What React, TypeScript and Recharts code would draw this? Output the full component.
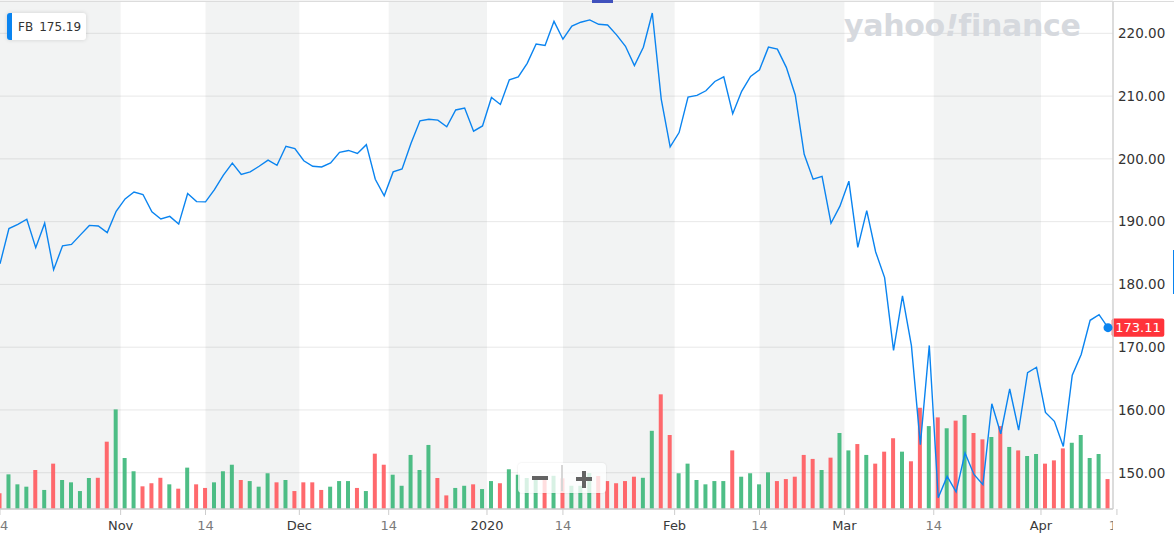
import React from "react";
import {
  ComposedChart,
  Line,
  Bar,
  Cell,
  XAxis,
  YAxis,
  CartesianGrid,
  ReferenceArea,
  ReferenceDot,
  ReferenceLine,
} from "recharts";

// trading sessions, Oct 14 2019 .. Apr 13 2020
const dates = [
  "2019-10-14", "2019-10-15", "2019-10-16", "2019-10-17", "2019-10-18", "2019-10-21", "2019-10-22",
  "2019-10-23", "2019-10-24", "2019-10-25", "2019-10-28", "2019-10-29", "2019-10-30", "2019-10-31",
  "2019-11-01", "2019-11-04", "2019-11-05", "2019-11-06", "2019-11-07", "2019-11-08", "2019-11-11",
  "2019-11-12", "2019-11-13", "2019-11-14", "2019-11-15", "2019-11-18", "2019-11-19", "2019-11-20",
  "2019-11-21", "2019-11-22", "2019-11-25", "2019-11-26", "2019-11-27", "2019-11-29",
  "2019-12-02", "2019-12-03", "2019-12-04", "2019-12-05", "2019-12-06", "2019-12-09", "2019-12-10",
  "2019-12-11", "2019-12-12", "2019-12-13", "2019-12-16", "2019-12-17", "2019-12-18", "2019-12-19",
  "2019-12-20", "2019-12-23", "2019-12-24", "2019-12-26", "2019-12-27", "2019-12-30", "2019-12-31",
  "2020-01-02", "2020-01-03", "2020-01-06", "2020-01-07", "2020-01-08", "2020-01-09", "2020-01-10",
  "2020-01-13", "2020-01-14", "2020-01-15", "2020-01-16", "2020-01-17", "2020-01-21", "2020-01-22",
  "2020-01-23", "2020-01-24", "2020-01-27", "2020-01-28", "2020-01-29", "2020-01-30", "2020-01-31",
  "2020-02-03", "2020-02-04", "2020-02-05", "2020-02-06", "2020-02-07", "2020-02-10", "2020-02-11",
  "2020-02-12", "2020-02-13", "2020-02-14", "2020-02-18", "2020-02-19", "2020-02-20", "2020-02-21",
  "2020-02-24", "2020-02-25", "2020-02-26", "2020-02-27", "2020-02-28",
  "2020-03-02", "2020-03-03", "2020-03-04", "2020-03-05", "2020-03-06", "2020-03-09", "2020-03-10",
  "2020-03-11", "2020-03-12", "2020-03-13", "2020-03-16", "2020-03-17", "2020-03-18", "2020-03-19",
  "2020-03-20", "2020-03-23", "2020-03-24", "2020-03-25", "2020-03-26", "2020-03-27", "2020-03-30",
  "2020-03-31",
  "2020-04-01", "2020-04-02", "2020-04-03", "2020-04-06", "2020-04-07", "2020-04-08", "2020-04-09",
  "2020-04-13",
];

const closes = [
  183.28, 188.89, 189.55, 190.39, 185.85, 189.76, 182.34, 186.15, 186.38, 187.89, 189.4, 189.31, 188.25, 191.65,
  193.62, 194.72, 194.32, 191.55, 190.42, 190.84, 189.61, 194.47, 193.19, 193.15, 195.1, 197.4, 199.32, 197.51,
  197.93, 198.82, 199.79, 198.97, 202.0, 201.64,
  199.7, 198.82, 198.71, 199.36, 201.05, 201.34, 200.87, 202.26, 196.75, 194.11, 197.92, 198.39, 202.5, 206.06,
  206.3, 206.18, 205.12, 207.79, 208.1, 204.41, 205.25,
  209.78, 208.67, 212.6, 213.06, 215.22, 218.3, 218.06, 221.91, 219.06, 221.15, 221.77, 222.14, 221.44, 221.32,
  219.76, 217.94, 214.87, 217.79, 223.23, 209.53, 201.91,
  204.19, 209.83, 210.11, 210.85, 212.33, 213.06, 207.19, 210.76, 213.14, 214.18, 217.8, 217.49, 214.58, 210.18,
  200.72, 196.77, 197.2, 189.75, 192.47,
  196.44, 185.89, 191.76, 185.17, 181.09, 169.5, 178.19, 170.24, 154.47, 170.28, 146.01, 149.42, 146.96, 153.13,
  149.73, 148.1, 160.98, 156.21, 163.34, 156.79, 165.95, 166.8,
  159.6, 158.19, 154.18, 165.55, 168.83, 174.28, 175.19, 173.11,
];

// volume, millions
const volumes = [
  8.7, 19.1, 13.6, 12.3, 21.5, 10.5, 25.0, 16.0, 14.7, 9.9, 17.1, 17.2, 37.1, 54.9,
  28.1, 20.8, 12.5, 14.2, 17.2, 13.6, 11.2, 22.8, 13.6, 11.6, 14.7, 20.8, 24.4, 16.0, 15.4, 12.3, 19.7, 14.7, 16.0, 9.9,
  14.7, 14.7, 10.5, 12.3, 15.4, 15.4, 11.6, 9.9, 30.5, 24.4, 18.9, 12.8, 29.8, 21.5, 35.3, 17.1, 7.5, 11.6, 12.8, 13.6, 11.0,
  15.4, 14.2, 21.9, 18.9, 17.1, 16.0, 16.0, 18.3, 16.9, 12.8, 12.8, 19.8, 18.2, 15.4, 14.2, 15.4, 17.8, 17.2, 43.1, 63.2, 40.8,
  19.7, 25.0, 16.0, 13.6, 15.4, 15.4, 32.3, 17.8, 19.7, 13.6, 20.2, 15.4, 16.5, 17.8, 29.8, 27.6, 21.5, 28.3, 41.9,
  32.3, 35.8, 29.8, 25.0, 31.6, 39.0, 31.6, 26.3, 55.8, 45.7, 50.5, 44.5, 48.7, 51.8, 41.9, 38.4, 39.7, 45.7, 34.2, 32.3, 29.2, 30.3,
  25.0, 26.8, 33.4, 36.5, 40.8, 28.1, 30.3, 16.5,
];

const prevClose = 184.19; // session before the first one shown (first bar is red)
const legendPrice = 175.19;

const tickDates = [
  "2019-10-14", "2019-11-01", "2019-11-14", "2019-12-01", "2019-12-14", "2020-01-01", "2020-01-14",
  "2020-02-01", "2020-02-14", "2020-03-01", "2020-03-14", "2020-04-01", "2020-04-14",
];
const tickLabels = ["14", "Nov", "14", "Dec", "14", "2020", "14", "Feb", "14", "Mar", "14", "Apr", "14"];
const priceTicks = [150, 160, 170, 180, 190, 200, 210, 220];

const data = dates.map((date, i) => ({
  i,
  date,
  close: closes[i],
  volume: volumes[i],
  up: closes[i] >= (i ? closes[i - 1] : prevClose),
}));
const last = data.length - 1;

// mid-month ticks sit on their session, month starts / weekend dates sit between sessions
const tickPos = (d: string) => {
  const k = dates.findIndex((x) => x >= d);
  if (k < 0) return dates.length;
  return dates[k] === d && d.endsWith("14") ? k : k - 0.5;
};
const ticks = tickDates.map(tickPos);

const FONT = '"DejaVu Sans", sans-serif';
const BLUE = "#0a84f0";
const GREEN = "#3fb87c";
const RED = "#ff5c61";
const W = 1174;
const H = 554;
const PLOT_R = 1113;

const XTick = (props: any) => {
  const { x, y, payload } = props;
  const label = tickLabels[ticks.indexOf(payload.value)];
  const isDay = label === "14";
  return (
    <g>
      <defs>
        <clipPath id={`xc${payload.value}`}>
          <rect x={0} y={0} width={PLOT_R} height={H} />
        </clipPath>
      </defs>
      <text
        x={x}
        y={y}
        dy="0.71em"
        textAnchor="middle"
        fontSize={13}
        fontFamily={FONT}
        fill={isDay ? "#7a7a7a" : "#3a3a3a"}
        clipPath={`url(#xc${payload.value})`}
      >
        {label}
      </text>
    </g>
  );
};

const PriceTag = (props: any) => {
  const vb = props.viewBox;
  const x = vb.x + vb.width - 1.3;
  const y = vb.y;
  return (
    <g>
      <rect x={x} y={y - 9.2} width={52.6} height={18.4} rx={2} fill="#ff333a" />
      <text x={x + 26.3} y={y} dy="0.36em" textAnchor="middle" fill="#fff" fontSize={13} fontFamily={FONT}>
        {closes[last].toFixed(2)}
      </text>
    </g>
  );
};

const App: React.FC = () => {
  return (
    <div style={{ position: "absolute", left: 0, top: 0, width: W, height: H, background: "#fff", fontFamily: FONT }}>
      <ComposedChart width={W} height={H} data={data} margin={{ top: 1, right: 0, bottom: 0, left: 0 }}>
        <XAxis
          type="number"
          dataKey="i"
          domain={[0, last + 0.56]}
          allowDataOverflow
          ticks={ticks}
          interval={0}
          tick={<XTick />}
          tickSize={6}
          tickMargin={6}
          height={45}
          axisLine={{ stroke: "#cdcdcd", strokeWidth: 1.5 }}
          tickLine={{ stroke: "#cdcdcd" }}
        />
        <YAxis
          yAxisId="p"
          orientation="right"
          domain={[144.22, 225.15]}
          allowDataOverflow
          ticks={priceTicks}
          width={61}
          tickFormatter={(v: number) => v.toFixed(2)}
          tick={{ fill: "#333", fontSize: 13.5, fontFamily: FONT }}
          tickLine={false}
          tickSize={3}
          tickMargin={2}
          axisLine={{ stroke: "#d0d0d0", strokeWidth: 1.5 }}
        />
        <YAxis yAxisId="v" hide domain={[0, 280]} />
        {[0, 2, 4, 6, 8, 10].map((k) => (
          <ReferenceArea
            key={k}
            yAxisId="p"
            x1={ticks[k]}
            x2={ticks[k + 1]}
            fill="#808a8a"
            fillOpacity={0.1}
            stroke="none"
          />
        ))}
        <CartesianGrid yAxisId="p" vertical={false} stroke="#e8e8e8" />
        <Line
          yAxisId="p"
          dataKey="close"
          stroke={BLUE}
          strokeWidth={1.4}
          dot={false}
          activeDot={false}
          isAnimationActive={false}
        />
        <Bar yAxisId="v" dataKey="volume" barSize={4} fillOpacity={0.92} isAnimationActive={false}>
          {data.map((d) => (
            <Cell key={d.date} fill={d.up ? GREEN : RED} />
          ))}
        </Bar>
        <ReferenceDot yAxisId="p" x={last} y={closes[last]} r={4.5} fill={BLUE} stroke="none" />
        <ReferenceLine yAxisId="p" y={closes[last]} stroke="none" label={(p: any) => <PriceTag {...p} />} />
      </ComposedChart>

      {/* top border */}
      <div style={{ position: "absolute", left: 0, top: 1, width: W, height: 1, background: "#dcdcdc" }} />
      <div style={{ position: "absolute", left: 592, top: 0, width: 21, height: 3, background: "#4051bd" }} />
      <div style={{ position: "absolute", left: 1173, top: 250, width: 1, height: 44, background: BLUE }} />

      {/* legend */}
      <div
        style={{
          position: "absolute",
          left: 7,
          top: 13,
          width: 74,
          height: 27,
          boxSizing: "content-box",
          borderLeft: `5px solid ${BLUE}`,
          borderRadius: 3,
          background: "#fff",
          boxShadow: "0 0 4px rgba(0,0,0,0.14)",
          display: "flex",
          alignItems: "center",
          fontSize: 12,
          color: "#333",
        }}
      >
        <span style={{ marginLeft: 6 }}>FB</span>
        <span style={{ marginLeft: 6 }}>{legendPrice.toFixed(2)}</span>
      </div>

      {/* watermark */}
      <div
        style={{
          position: "absolute",
          left: 844,
          top: 11,
          fontSize: 30,
          lineHeight: "30px",
          fontWeight: 700,
          letterSpacing: -0.3,
          color: "#d6d9de",
          whiteSpace: "nowrap",
        }}
      >
        yahoo<span style={{ fontStyle: "italic" }}>!</span>finance
      </div>

      {/* zoom control */}
      <div
        style={{
          position: "absolute",
          left: 518,
          top: 463,
          width: 88,
          height: 30,
          borderRadius: 4,
          background: "rgba(255,255,255,0.78)",
          boxShadow: "0 0 2px rgba(0,0,0,0.12)",
        }}
      >
        <div style={{ position: "absolute", left: 14, top: 13, width: 16, height: 4, background: "#646464" }} />
        <div style={{ position: "absolute", left: 43, top: 2, width: 1.5, height: 26, background: "#d6d6d6" }} />
        <div style={{ position: "absolute", left: 58, top: 13.5, width: 16, height: 4, background: "#646464" }} />
        <div style={{ position: "absolute", left: 64, top: 7.5, width: 4, height: 17, background: "#646464" }} />
      </div>
    </div>
  );
};

export default App;
